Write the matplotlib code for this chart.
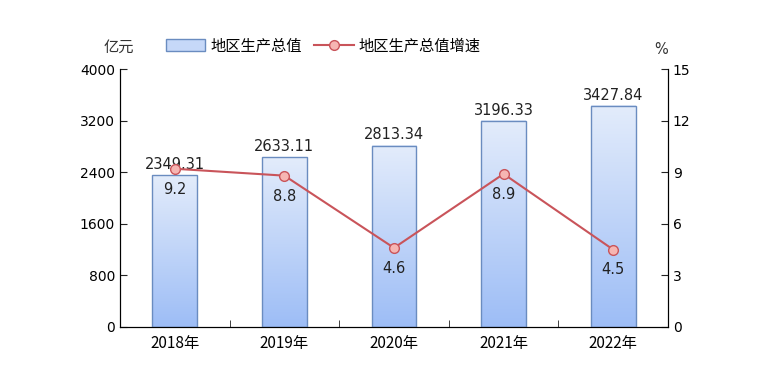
import matplotlib
matplotlib.use("Agg")
import matplotlib.pyplot as plt
import numpy as np
from matplotlib.patches import Patch
from matplotlib.lines import Line2D
from matplotlib.colors import LinearSegmentedColormap

plt.rcParams['font.family'] = ['DejaVu Sans']
CJK = ['Noto Sans CJK SC', 'DejaVu Sans']

years = ['2018年', '2019年', '2020年', '2021年', '2022年']
gdp = [2349.31, 2633.11, 2813.34, 3196.33, 3427.84]
growth = [9.2, 8.8, 4.6, 8.9, 4.5]
left_ticks = [0, 800, 1600, 2400, 3200, 4000]
right_ticks = [0, 3, 6, 9, 12, 15]

fig = plt.figure(figsize=(7.62, 3.89), dpi=100)
ax = fig.add_axes([0.1575, 0.1594, 0.7191, 0.6632])
ax2 = ax.twinx()

x = np.arange(len(years))
bw = 0.41
grad = np.linspace(0, 1, 256).reshape(-1, 1)
cmap = LinearSegmentedColormap.from_list('b', ['#9dbdf6', '#e3ecfb'])
for xi, v in zip(x, gdp):
    ax.imshow(grad, extent=[xi - bw/2, xi + bw/2, 0, v], origin='lower',
              aspect='auto', cmap=cmap, zorder=2)
bars = ax.bar(x, gdp, width=bw, facecolor='none', edgecolor='#6a8cc0', linewidth=1.0, zorder=3)
for xi, v in zip(x, gdp):
    ax.text(xi, v + 50, f'{v:.2f}', ha='center', va='bottom', fontsize=10.5, color='#222222', zorder=5)

ax.set_xlim(-0.5, 4.5)
ax.set_ylim(0, 4000)
ax.set_yticks(left_ticks)
ax.set_xticks(x)
ax.set_xticklabels(years, fontfamily=CJK, fontsize=11)
ax.set_xticks(np.arange(-0.5, 5, 1)[1:-1], minor=True)
ax.tick_params(axis='x', which='major', length=0, pad=6)
ax.tick_params(axis='x', which='minor', length=5, direction='in', color='#222222')
ax.tick_params(axis='y', direction='in', length=5, labelsize=10, color='#222222')
ax.spines['top'].set_visible(False)

ax2.plot(x, growth, color='#c9545a', linewidth=1.5, marker='o', markersize=7,
         markerfacecolor='#f6b5b2', markeredgecolor='#c9545a', markeredgewidth=1.0, zorder=6)
for xi, g in zip(x, growth):
    ax2.text(xi, g - 0.75, f'{g}', ha='center', va='top', fontsize=10.5, color='#222222')
ax2.set_ylim(0, 15)
ax2.set_yticks(right_ticks)
ax2.tick_params(axis='y', direction='in', length=5, labelsize=10, color='#222222')
ax2.spines['top'].set_visible(False)

fig.text(119/762, 1 - 47/389, '亿元', ha='center', va='center', fontsize=11, fontfamily=CJK, color='#333333')
fig.text(661/762, 1 - 50/389, '%', ha='center', va='center', fontsize=10.5, color='#333333')

handles = [Patch(facecolor='#c6d8f8', edgecolor='#6a8cc0', linewidth=1.0),
           Line2D([0], [0], color='#c9545a', linewidth=1.5, marker='o', markersize=7,
                  markerfacecolor='#f6b5b2', markeredgecolor='#c9545a')]
fig.legend(handles, ['地区生产总值', '地区生产总值增速'], loc='center left',
           bbox_to_anchor=(152/762, 1 - 46/389), ncol=2, frameon=False,
           prop={'family': CJK, 'size': 11}, handlelength=2.6, handleheight=0.8,
           handletextpad=0.3, columnspacing=0.8)

fig.savefig('out.png', dpi=100)
